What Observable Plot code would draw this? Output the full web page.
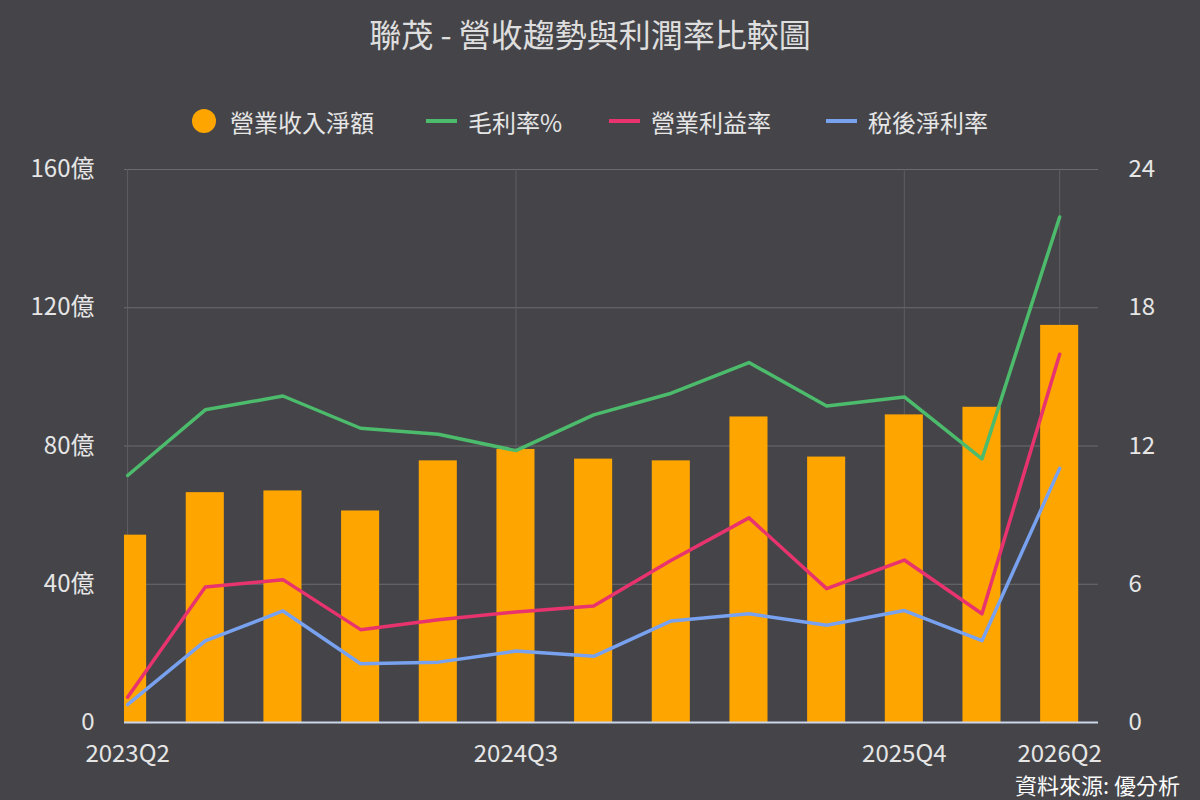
<!DOCTYPE html>
<html>
<head>
<meta charset="utf-8">
<script src="https://cdn.jsdelivr.net/npm/d3@7"></script>
<script src="https://cdn.jsdelivr.net/npm/@observablehq/plot@0.6"></script>
<style>
  html, body { margin: 0; padding: 0; background: #454549; overflow: hidden; }
  body { width: 1200px; height: 800px; font-family: "Noto Sans CJK TC", "Noto Sans", sans-serif; color: #e6e6e6; }
  #title { width: 1180px; height: 66px; line-height: 66px; text-align: center; font-size: 32px; color: #dedede; }
  #legend { position: relative; height: 84px; }
  .item { position: absolute; top: 26px; height: 58px; display: flex; align-items: center; font-size: 24px; color: #e6e6e6; white-space: nowrap; }
  .dot { width: 24px; height: 24px; border-radius: 50%; margin-right: 14px; }
  .ln { width: 31px; height: 4px; margin-right: 11px; }
  #caption { height: 32px; line-height: 32px; text-align: right; padding-right: 20px; font-size: 22px; color: #fafafa; }
  #chart svg { display: block; }
</style>
</head>
<body>
<div id="title">聯茂 - 營收趨勢與利潤率比較圖</div>
<div id="legend"></div>
<div id="chart"></div>
<div id="caption">資料來源: 優分析</div>
<script>
// ---- data ----
const quarters = ["2023Q2","2023Q3","2023Q4","2024Q1","2024Q2","2024Q3","2024Q4","2025Q1","2025Q2","2025Q3","2025Q4","2026Q1","2026Q2"];
const revenue = [54.2, 66.5, 67.0, 61.2, 75.7, 79.0, 76.2, 75.7, 88.4, 76.8, 89.0, 91.2, 114.9]; // 億
const grossMargin = [10.72, 13.57, 14.17, 12.77, 12.51, 11.8, 13.35, 14.29, 15.62, 13.74, 14.13, 11.44, 21.94];
const opMargin = [1.10, 5.88, 6.2, 4.03, 4.46, 4.8, 5.06, 7.04, 8.88, 5.81, 7.05, 4.72, 15.98];
const netMargin = [0.78, 3.54, 4.84, 2.55, 2.62, 3.1, 2.87, 4.41, 4.72, 4.22, 4.86, 3.55, 11.03];
const leftTicks = [0, 40, 80, 120, 160];
const rightTicks = [0, 6, 12, 18, 24];
const xTickLabels = ["2023Q2", "2024Q3", "2025Q4", "2026Q2"];
const seriesNames = ["營業收入淨額", "毛利率%", "營業利益率", "稅後淨利率"];

const colors = ["#FFA500", "#4cbb6c", "#e8336e", "#78a2ef"];
const k = 160 / 24; // right axis (percent) -> left axis units

const rows = quarters.map((q, i) => ({
  i, q, rev: revenue[i], gross: grossMargin[i], op: opMargin[i], net: netMargin[i]
}));
const xTickIdx = xTickLabels.map(l => quarters.indexOf(l));

// ---- legend ----
const legend = document.getElementById("legend");
const lefts = [192, 426, 609, 826];
seriesNames.forEach((name, j) => {
  const it = document.createElement("div");
  it.className = "item";
  it.style.left = lefts[j] + "px";
  const sym = document.createElement("span");
  sym.className = j === 0 ? "dot" : "ln";
  sym.style.background = colors[j];
  const t = document.createElement("span");
  t.textContent = name;
  it.appendChild(sym);
  it.appendChild(t);
  legend.appendChild(it);
});

// ---- chart ----
const fam = "'Noto Sans CJK TC', 'Noto Sans', sans-serif";
const chart = Plot.plot({
  width: 1200,
  height: 618,
  marginTop: 19,
  marginBottom: 46,
  marginLeft: 124,
  marginRight: 102,
  style: { background: "transparent", color: "#e6e6e6", fontSize: "24px", fontFamily: fam },
  x: { type: "linear", domain: [-0.04, 12.5] },
  y: { domain: [0, 160] },
  marks: [
    Plot.ruleY(leftTicks.filter(d => d > 0), { stroke: "#6c6c70", strokeWidth: 1.2 }),
    Plot.ruleX(xTickIdx, { stroke: "#5f5f63", strokeWidth: 1 }),
    Plot.rectY(rows, { x1: d => d.i - 0.245, x2: d => d.i + 0.245, y1: 0, y2: "rev", fill: colors[0], clip: true }),
    Plot.line(rows, { x: "i", y: d => d.gross * k, stroke: colors[1], strokeWidth: 3.5, clip: true }),
    Plot.line(rows, { x: "i", y: d => d.op * k, stroke: colors[2], strokeWidth: 3.5, clip: true }),
    Plot.line(rows, { x: "i", y: d => d.net * k, stroke: colors[3], strokeWidth: 3.5, clip: true }),
    Plot.ruleY([0], { stroke: "#ccd6eb", strokeWidth: 2 }),
    Plot.axisY(leftTicks, { anchor: "left", tickSize: 0, tickPadding: 30, fontSize: 24, label: null,
      tickFormat: d => d === 0 ? "0" : d + "億" }),
    Plot.axisY(leftTicks, { anchor: "right", tickSize: 0, tickPadding: 30, fontSize: 24, label: null,
      tickFormat: d => String(rightTicks[leftTicks.indexOf(d)]) }),
    Plot.axisX(xTickIdx, { anchor: "bottom", tickSize: 0, tickPadding: 22, fontSize: 24, label: null,
      tickFormat: i => quarters[i] })
  ]
});
document.getElementById("chart").appendChild(chart);
</script>
</body>
</html>
